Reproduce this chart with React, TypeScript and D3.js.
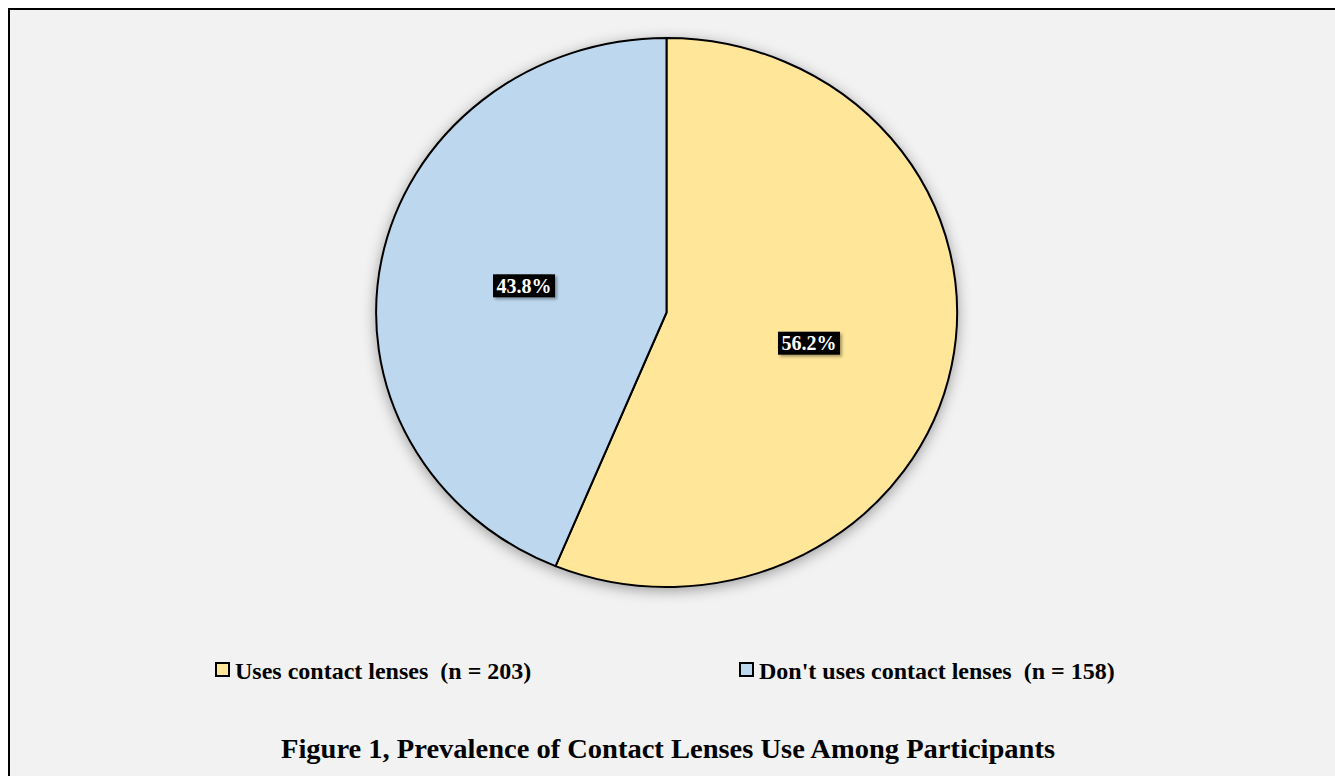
import React from "react";
import * as d3 from "d3";

const categories = ["Uses contact lenses", "Don't uses contact lenses"];
const counts = [203, 158];
const percentLabels = ["56.2%", "43.8%"];
const colors = ["#ffe699", "#bdd7ee"];
const title = "Figure 1, Prevalence of Contact Lenses Use Among Participants";

const W = 1335;
const H = 776;
const cx = 666.5;
const cy = 312.5;
const rx = 290.5;
const ry = 274.5;
const FONT = "'Liberation Serif', 'Times New Roman', serif";

export default function App() {
  const pie = d3.pie<number>().sort(null).value((d) => d);
  const arcs = pie(counts);
  const arcGen = d3.arc<d3.PieArcDatum<number>>().innerRadius(0).outerRadius(1);
  const labelArc = d3.arc<d3.PieArcDatum<number>>().innerRadius(0.5).outerRadius(0.5);

  const legendX = [216, 740];
  const legendY = 669;

  return (
    <svg
      width={W}
      height={H}
      style={{ position: "absolute", left: 0, top: 0, display: "block" }}
    >
      <defs>
        <filter id="pieShadow" x="-20%" y="-20%" width="140%" height="140%">
          <feDropShadow dx="0" dy="3" stdDeviation="7" floodColor="#000" floodOpacity="0.35" />
        </filter>
        <filter id="lblShadow" x="-20%" y="-30%" width="150%" height="170%">
          <feDropShadow dx="2" dy="2" stdDeviation="1.5" floodColor="#000" floodOpacity="0.35" />
        </filter>
      </defs>
      <rect x={9} y={9} width={W} height={H} fill="#f2f2f2" stroke="#000" strokeWidth={2} />
      <g filter="url(#pieShadow)">
        <g transform={`translate(${cx},${cy}) scale(${rx},${ry})`}>
          {arcs.map((a, i) => (
            <path
              key={i}
              d={arcGen(a) || ""}
              fill={colors[i]}
              stroke="#000"
              strokeWidth={2}
              vectorEffect="non-scaling-stroke"
              strokeLinejoin="round"
            />
          ))}
        </g>
      </g>
      {arcs.map((a, i) => {
        const [lx, ly] = labelArc.centroid(a);
        const px = cx + lx * rx;
        const py = cy + ly * ry + (i === 0 ? 4 : 0);
        const bw = 62;
        const bh = 23;
        return (
          <g key={"l" + i}>
            <rect
              x={px - bw / 2}
              y={py - bh / 2}
              width={bw}
              height={bh}
              fill="#000"
              filter="url(#lblShadow)"
            />
            <text
              x={px}
              y={py + 7}
              textAnchor="middle"
              fill="#fff"
              fontFamily={FONT}
              fontWeight="bold"
              fontSize={20}
            >
              {percentLabels[i]}
            </text>
          </g>
        );
      })}
      {categories.map((c, i) => (
        <g key={"lg" + i}>
          <rect
            x={legendX[i]}
            y={legendY - 6}
            width={13}
            height={13}
            fill={colors[i]}
            stroke="#000"
            strokeWidth={2}
          />
          <text
            x={legendX[i] + 19}
            y={legendY + 10}
            fontFamily={FONT}
            fontWeight="bold"
            fontSize={24}
            fill="#000"
            style={{ whiteSpace: "pre" }}
          >
            {`${c}  (n = ${counts[i]})`}
          </text>
        </g>
      ))}
      <text
        x={668}
        y={758}
        textAnchor="middle"
        fontFamily={FONT}
        fontWeight="bold"
        fontSize={27}
        textLength={774}
        lengthAdjust="spacingAndGlyphs"
        fill="#000"
      >
        {title}
      </text>
    </svg>
  );
}
